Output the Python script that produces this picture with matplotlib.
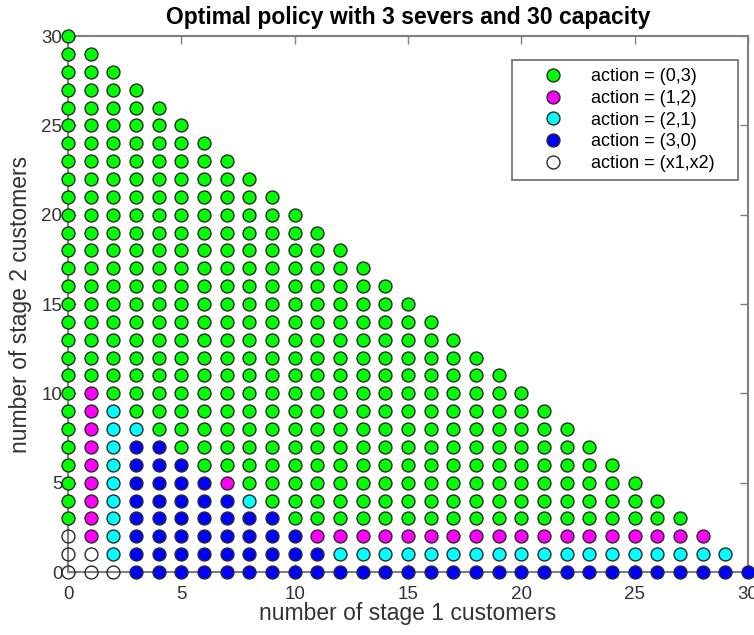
import matplotlib
matplotlib.use('Agg')
import matplotlib.pyplot as plt

plt.rcParams['font.family'] = ['Liberation Sans', 'DejaVu Sans']

capacity = 30

# action per state, written row by row (stage 2 count = y) as runs of (action, count)
# rows above the last listed one are all (0,3)
policy_rows = {
    0: [('x', 3), ('30', 28)],
    1: [('x', 2), ('21', 1), ('30', 9), ('21', 18)],
    2: [('x', 1), ('12', 1), ('21', 1), ('30', 8), ('12', 18)],
    3: [('03', 1), ('12', 1), ('21', 1), ('30', 7), ('03', 18)],
    4: [('03', 1), ('12', 1), ('21', 1), ('30', 5), ('21', 1), ('03', 18)],
    5: [('03', 1), ('12', 1), ('21', 1), ('30', 4), ('12', 1), ('03', 18)],
    6: [('03', 1), ('12', 1), ('21', 1), ('30', 3), ('03', 18)],
    7: [('03', 1), ('12', 1), ('21', 1), ('30', 2), ('03', 18)],
    8: [('03', 1), ('12', 1), ('21', 2), ('03', 18)],
    9: [('03', 1), ('12', 1), ('21', 1), ('03', 18)],
    10: [('03', 1), ('12', 1), ('03', 18)],
}

actions = ['03', '12', '21', '30', 'x']
labels = ['action = (0,3)', 'action = (1,2)', 'action = (2,1)',
          'action = (3,0)', 'action = (x1,x2)']
face_colors = ['#00ff00', '#ff00ff', '#00ffff', '#0000ff', 'none']

# expand the runs into point lists per action
points = {a: ([], []) for a in actions}
for y in range(capacity + 1):
    n = capacity - y + 1
    row = []
    for a, cnt in policy_rows.get(y, []):
        row += [a] * cnt
    row = (row + ['03'] * n)[:n]
    for x, a in enumerate(row):
        points[a][0].append(x)
        points[a][1].append(y)

fig = plt.figure(figsize=(7.54, 6.35), dpi=100)
ax = fig.add_axes([0.0902, 0.0992, 0.9019, 0.844])

for a, lab, fc in zip(actions, labels, face_colors):
    xs, ys = points[a]
    ax.plot(xs, ys, 'o', markersize=9.3, markerfacecolor=fc,
            markeredgecolor='#2a2a2a', markeredgewidth=1.0,
            label=lab, clip_on=False, zorder=3)

ax.set_xlim(0, 30)
ax.set_ylim(0, 30)
ax.set_xticks(range(0, 31, 5))
ax.set_yticks(range(0, 31, 5))
ax.tick_params(direction='in', top=True, right=True, length=6, width=1,
               labelsize=13.5, colors='#808080', labelcolor='#333333')
ax.tick_params(axis='x', pad=10)
ax.tick_params(axis='y', pad=4)
for s in ax.spines.values():
    s.set_color('#808080')
    s.set_linewidth(1.5)

ax.set_xlabel('number of stage 1 customers', fontsize=16.5, color='#333333', va='top')
ax.set_ylabel('number of stage 2 customers', fontsize=16.5, color='#333333')
ax.xaxis.set_label_coords(0.5, -0.056)
ax.yaxis.set_label_coords(-0.053, 0.5)
ax.set_title('Optimal policy with 3 severs and 30 capacity', fontsize=16.5,
             fontweight='bold', pad=9)

# legend box stretched to a fixed width in the upper right corner
leg = ax.legend(loc='upper right', mode='expand', fontsize=13, frameon=True,
                fancybox=False, edgecolor='#555555', borderpad=0.45,
                labelspacing=0.26, handlelength=3.6, handletextpad=0.33,
                borderaxespad=0, bbox_to_anchor=(0.653, 0.5, 0.332, 0.455))
leg.get_frame().set_linewidth(1.3)

fig.savefig('out.png', dpi=100)
